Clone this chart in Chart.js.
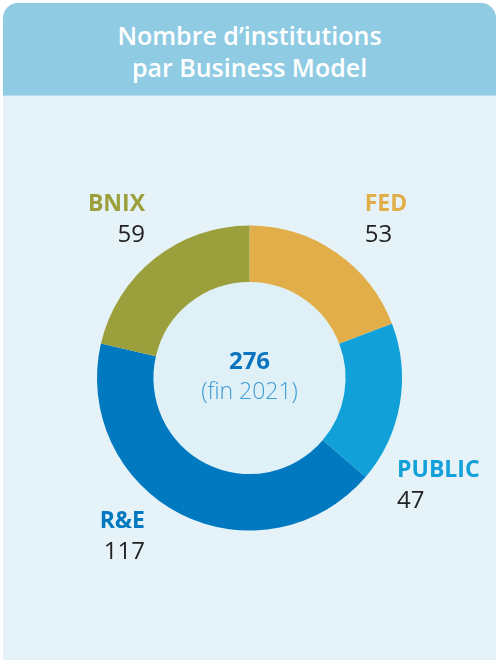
<!DOCTYPE html>
<html>
<head>
<meta charset="utf-8">
<script src="https://cdn.jsdelivr.net/npm/chart.js@4"></script>
<style>
  html, body { margin: 0; padding: 0; background: #fff; }
  body { width: 496px; height: 661px; position: relative; overflow: hidden; font-family: "Open Sans", sans-serif; }
  #panel {
    position: absolute; left: 3px; top: 3px; width: 493px; height: 657px;
    background: #e5f2f8; border-radius: 15px 15px 0 0; overflow: hidden;
  }
  #header {
    height: 93px; background: #8fcce4; color: #fff; text-align: center;
    font-weight: 600; font-size: 25px; line-height: 32px; padding-top: 16px; box-sizing: border-box;
    border-bottom: 1px solid #b6dded;
  }
  #wrap { position: absolute; left: 0; top: 93px; width: 493px; height: 564px; }
</style>
</head>
<body>
<div id="panel">
  <div id="header">Nombre d’institutions<br>par Business Model</div>
  <div id="wrap"><canvas id="bmChart"></canvas></div>
</div>
<script>
const categories = ['FED', 'PUBLIC', 'R&E', 'BNIX'];
const counts = [53, 47, 117, 59];
const sliceColors = ['#e1ae4a', '#12a0d9', '#0079c1', '#9ba03c'];
const totalLabel = '276';
const subLabel = '(fin 2021)';

// where each label sits: angle from top (clockwise, degrees) and distance as a share of the outer radius
const labelSpots = [
    { angle: 36, dist: 1.285, align: 'left' },
    { angle: 126, dist: 1.196, align: 'left' },
    { angle: 213.4, dist: 1.245, align: 'right' },
    { angle: 326.6, dist: 1.245, align: 'right' }
];

const ringLabels = {
    id: 'ringLabels',
    beforeDatasetsDraw(chart) {
        const arc = chart.getDatasetMeta(0).data[0];
        const ctx = chart.ctx;
        ctx.save();
        ctx.fillStyle = '#e0f0f7';
        ctx.beginPath();
        ctx.arc(arc.x, arc.y, arc.innerRadius, 0, Math.PI * 2);
        ctx.fill();
        ctx.restore();
    },
    afterDatasetsDraw(chart) {
        const ctx = chart.ctx;
        const arcs = chart.getDatasetMeta(0).data;
        const cx = arcs[0].x, cy = arcs[0].y, r = arcs[0].outerRadius;
        ctx.save();
        ctx.textBaseline = 'middle';
        arcs.forEach((a, i) => {
            const spot = labelSpots[i];
            const rad = spot.angle * Math.PI / 180;
            const x = cx + Math.sin(rad) * r * spot.dist;
            const y = cy - Math.cos(rad) * r * spot.dist;
            ctx.textAlign = spot.align;
            ctx.fillStyle = sliceColors[i];
            ctx.font = '700 23px "Open Sans"';
            ctx.fillText(categories[i], x, y - 15);
            ctx.fillStyle = '#222';
            ctx.font = '400 24px "Open Sans"';
            ctx.fillText(String(counts[i]), x, y + 16);
        });
        ctx.textAlign = 'center';
        ctx.fillStyle = '#0a74be';
        ctx.font = '700 24px "Open Sans"';
        ctx.fillText(totalLabel, cx, cy - 16);
        ctx.fillStyle = '#3d9bd6';
        ctx.font = '300 23px "Open Sans"';
        ctx.fillText(subLabel, cx, cy + 14);
        ctx.restore();
    }
};

const ctx = document.getElementById('bmChart').getContext('2d');
const myChart = new Chart(ctx, {
    type: 'doughnut',
    data: {
        labels: categories,
        datasets: [{
            data: counts,
            backgroundColor: sliceColors,
            borderWidth: 0
        }]
    },
    options: {
        responsive: true,
        maintainAspectRatio: false,
        animation: false,
        cutout: '63%',
        layout: { padding: 94 },
        plugins: {
            legend: { display: false },
            tooltip: { enabled: false }
        }
    },
    plugins: [ringLabels]
});
</script>
</body>
</html>
